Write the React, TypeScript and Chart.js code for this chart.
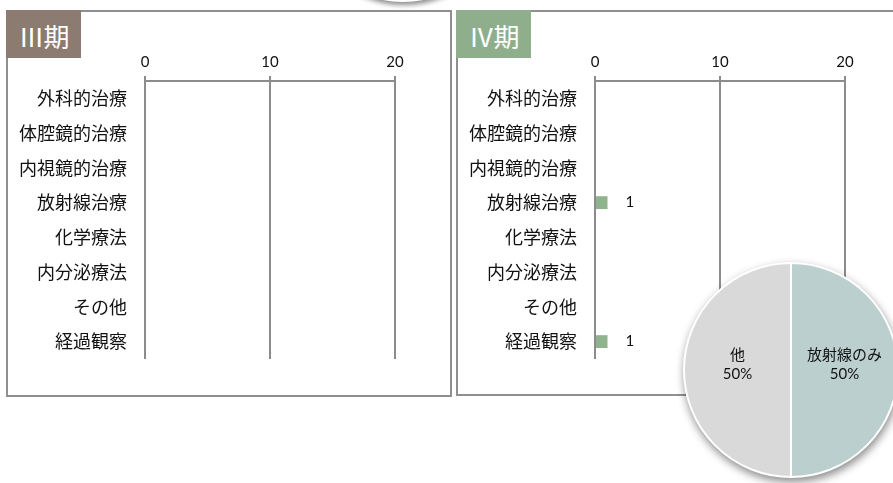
import React, { useEffect, useRef } from "react";
import { Chart, registerables } from "chart.js";
Chart.register(...registerables);

const categories = ["外科的治療", "体腔鏡的治療", "内視鏡的治療", "放射線治療", "化学療法", "内分泌療法", "その他", "経過観察"];
const stage3Values = [0, 0, 0, 0, 0, 0, 0, 0];
const stage4Values = [0, 0, 0, 1, 0, 0, 0, 1];
const xTickValues = [0, 10, 20];
const pieLabels = ["放射線のみ", "他"];
const pieValues = [1, 1];

const GRID = "#8c8c8c";
const TEXT = "#111111";
const JP = '"Noto Sans CJK JP", "Noto Sans", sans-serif';
const NUM = 'Lato, "Open Sans", sans-serif';

const valueLabelPlugin = {
  id: "valueLabels",
  afterDatasetsDraw(chart: any) {
    const ctx = chart.ctx;
    const meta = chart.getDatasetMeta(0);
    const data = chart.data.datasets[0].data;
    meta.data.forEach((bar: any, i: number) => {
      const v = data[i];
      if (!v) return;
      ctx.save();
      ctx.font = "15px " + NUM;
      ctx.fillStyle = TEXT;
      ctx.textAlign = "left";
      ctx.textBaseline = "middle";
      ctx.fillText(String(v), bar.x + 18, bar.y);
      ctx.restore();
    });
  },
};

const pieLabelPlugin = {
  id: "pieLabels",
  afterDatasetsDraw(chart: any) {
    const ctx = chart.ctx;
    const meta = chart.getDatasetMeta(0);
    const data = chart.data.datasets[0].data as number[];
    const total = data.reduce((a, b) => a + b, 0);
    meta.data.forEach((arc: any, i: number) => {
      const p = arc.getProps(["x", "y", "startAngle", "endAngle", "outerRadius"], true);
      const mid = (p.startAngle + p.endAngle) / 2;
      const px = p.x + Math.cos(mid) * p.outerRadius * 0.5;
      const py = p.y + Math.sin(mid) * p.outerRadius * 0.5;
      const pct = Math.round((data[i] / total) * 100) + "%";
      ctx.save();
      ctx.fillStyle = TEXT;
      ctx.textAlign = "center";
      ctx.textBaseline = "middle";
      ctx.font = "15px " + JP;
      ctx.fillText(chart.data.labels[i], px, py - 16);
      ctx.font = "15px " + NUM;
      ctx.fillText(pct, px, py + 4);
      ctx.restore();
    });
  },
};

function BarChart({ left, top, values, barColor }: any) {
  const ref = useRef<HTMLCanvasElement>(null);
  useEffect(() => {
    const chart = new Chart(ref.current as HTMLCanvasElement, {
      type: "bar",
      data: {
        labels: categories,
        datasets: [
          {
            data: values,
            backgroundColor: barColor,
            barPercentage: 0.37,
            categoryPercentage: 1,
          },
        ],
      },
      options: {
        animation: false,
        responsive: false,
        indexAxis: "y",
        layout: { padding: { left: 0, top: 0, right: 56, bottom: 36 } },
        plugins: { legend: { display: false }, tooltip: { enabled: false } },
        scales: {
          x: {
            position: "top",
            min: 0,
            max: 20,
            afterBuildTicks: (s: any) => {
              s.ticks = xTickValues.map((v) => ({ value: v }));
            },
            grid: { color: GRID, lineWidth: 2, tickLength: 5, drawTicks: true },
            border: { display: true, color: GRID, width: 2 },
            ticks: { font: { family: NUM, size: 15 }, color: TEXT, padding: 5, maxRotation: 0 },
            afterFit: (s: any) => {
              s.height = 69;
            },
          },
          y: {
            grid: { display: false, drawTicks: false },
            border: { display: false },
            ticks: { font: { family: JP, size: 18 }, color: TEXT, padding: 18 },
            afterFit: (s: any) => {
              s.width = 138;
            },
          },
        },
      } as any,
      plugins: [valueLabelPlugin],
    });
    return () => chart.destroy();
  }, []);
  return (
    <canvas
      ref={ref}
      width={444}
      height={383}
      style={{ position: "absolute", left, top, width: 444, height: 383 }}
    />
  );
}

function PieChart() {
  const ref = useRef<HTMLCanvasElement>(null);
  useEffect(() => {
    const chart = new Chart(ref.current as HTMLCanvasElement, {
      type: "pie",
      data: {
        labels: pieLabels,
        datasets: [
          {
            data: pieValues,
            backgroundColor: ["#BACFCE", "#D9D9D9"],
            borderColor: "#ffffff",
            borderWidth: 2,
          },
        ],
      },
      options: {
        animation: false,
        responsive: false,
        layout: { padding: 12 },
        plugins: { legend: { display: false }, tooltip: { enabled: false } },
      } as any,
      plugins: [pieLabelPlugin],
    });
    return () => chart.destroy();
  }, []);
  return (
    <canvas
      ref={ref}
      width={240}
      height={240}
      style={{
        position: "absolute",
        left: 671,
        top: 250,
        width: 240,
        height: 240,
        filter: "drop-shadow(1px 4px 4px rgba(0,0,0,0.45))",
      }}
    />
  );
}

function Badge({ left, bg, text }: any) {
  return (
    <div
      style={{
        position: "absolute",
        left,
        top: 10,
        width: 75,
        height: 48,
        background: bg,
        color: "#fff",
        fontFamily: JP,
        fontSize: 26,
        display: "flex",
        alignItems: "center",
        justifyContent: "center",
        paddingTop: 3,
        boxSizing: "border-box",
        letterSpacing: -1,
      }}
    >
      {text}
    </div>
  );
}

export default function App() {
  return (
    <div
      style={{
        position: "absolute",
        left: 0,
        top: 0,
        width: 893,
        height: 483,
        overflow: "hidden",
        background: "#fff",
      }}
    >
      <div
        style={{
          position: "absolute",
          left: 296,
          top: -212,
          width: 214,
          height: 214,
          borderRadius: "50%",
          background: "#fff",
          boxShadow: "1px 3px 5px rgba(0,0,0,0.45)",
        }}
      />
      <div
        style={{
          position: "absolute",
          left: 6,
          top: 10,
          width: 446,
          height: 387,
          border: "2px solid #8f8f8f",
          boxSizing: "border-box",
        }}
      />
      <div
        style={{
          position: "absolute",
          left: 456,
          top: 10,
          width: 470,
          height: 386,
          border: "2px solid #8f8f8f",
          boxSizing: "border-box",
        }}
      />
      <BarChart left={7} top={12} values={stage3Values} barColor="#8FB38D" />
      <BarChart left={457} top={12} values={stage4Values} barColor="#8FB38D" />
      <Badge left={6} bg="#8C7B70" text="Ⅲ期" />
      <Badge left={456} bg="#8FAF8C" text="Ⅳ期" />
      <PieChart />
    </div>
  );
}
